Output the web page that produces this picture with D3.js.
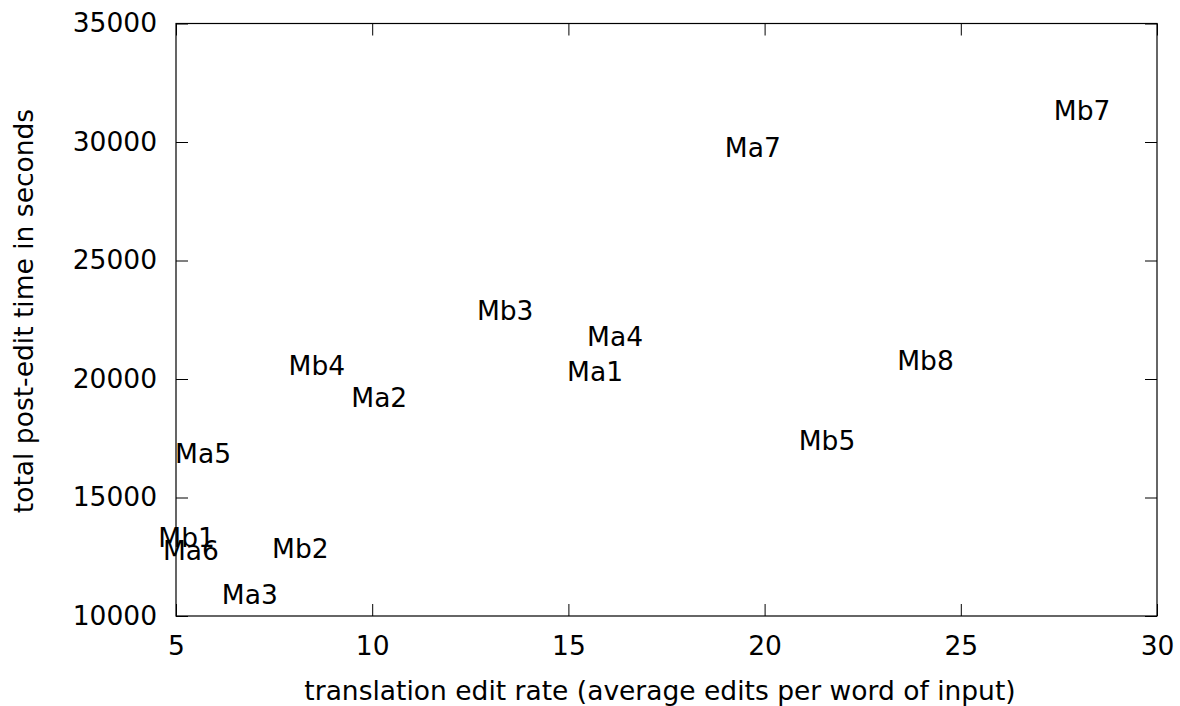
<!DOCTYPE html>
<html>
<head>
<meta charset="utf-8">
<script src="https://cdn.jsdelivr.net/npm/d3@7"></script>
<style>
  body { margin: 0; background: #fff; }
  text { font-family: "DejaVu Sans", sans-serif; font-size: 26.5px; fill: #000; }
</style>
</head>
<body>
<div id="canvas"></div>
<script>
const w = 1180;
const h = 706;

// labels placed at (edit rate, post-edit seconds)
const names = ["Mb7", "Ma7", "Mb3", "Ma4", "Mb4", "Ma1", "Ma2", "Mb8", "Mb5", "Ma5", "Mb1", "Ma6", "Mb2", "Ma3"];
const editRate = [28.09, 19.70, 13.39, 16.19, 8.59, 15.68, 10.18, 24.10, 21.59, 5.69, 5.27, 5.38, 8.17, 6.88];
const editTime = [31333, 29786, 22871, 21792, 20582, 20300, 19220, 20793, 17420, 16872, 13331, 12783, 12837, 10906];

const xTicks = [5, 10, 15, 20, 25, 30];
const yTicks = [10000, 15000, 20000, 25000, 30000, 35000];

const padL = 176, padR = 1157, padT = 23.5, padB = 616;

let svg = d3.select("#canvas").append("svg").attr("width", w).attr("height", h);

let x = d3.scaleLinear().domain([5, 30]).range([padL, padR]);
let y = d3.scaleLinear().domain([10000, 35000]).range([padB, padT]);

function styleAxis(g) {
  g.select(".domain").remove();
  g.selectAll(".tick line").attr("stroke", "#000").attr("stroke-width", 1);
  g.selectAll("text").attr("fill", "#000").style("font-family", "DejaVu Sans").style("font-size", "26.5px");
}

svg.append("g").attr("transform", "translate(0," + padB + ")")
  .call(d3.axisBottom(x).tickValues(xTicks).tickFormat(d3.format("d")).tickSizeInner(-12).tickSizeOuter(0).tickPadding(20))
  .call(styleAxis);

svg.append("g").attr("transform", "translate(0," + padT + ")")
  .call(d3.axisTop(x).tickValues(xTicks).tickSizeInner(-12).tickSizeOuter(0).tickFormat(""))
  .call(styleAxis);

svg.append("g").attr("transform", "translate(" + padL + ",0)")
  .call(d3.axisLeft(y).tickValues(yTicks).tickFormat(d3.format("d")).tickSizeInner(-12).tickSizeOuter(0).tickPadding(19))
  .call(styleAxis);

svg.append("g").attr("transform", "translate(" + padR + ",0)")
  .call(d3.axisRight(y).tickValues(yTicks).tickSizeInner(-12).tickSizeOuter(0).tickFormat(""))
  .call(styleAxis);

svg.append("rect")
  .attr("x", padL).attr("y", padT)
  .attr("width", padR - padL).attr("height", padB - padT)
  .attr("fill", "none").attr("stroke", "#000").attr("stroke-width", 1.2);

svg.selectAll(".lbl").data(names)
  .enter().append("text")
  .attr("class", "lbl")
  .attr("text-anchor", "middle")
  .attr("x", (d, i) => x(editRate[i]))
  .attr("y", (d, i) => y(editTime[i]) + 9.5)
  .text((d) => d);

svg.append("text")
  .attr("text-anchor", "middle")
  .attr("x", 660).attr("y", 700)
  .text("translation edit rate (average edits per word of input)");

svg.append("text")
  .attr("text-anchor", "middle")
  .attr("transform", "translate(33,311) rotate(-90)")
  .text("total post-edit time in seconds");
</script>
</body>
</html>
